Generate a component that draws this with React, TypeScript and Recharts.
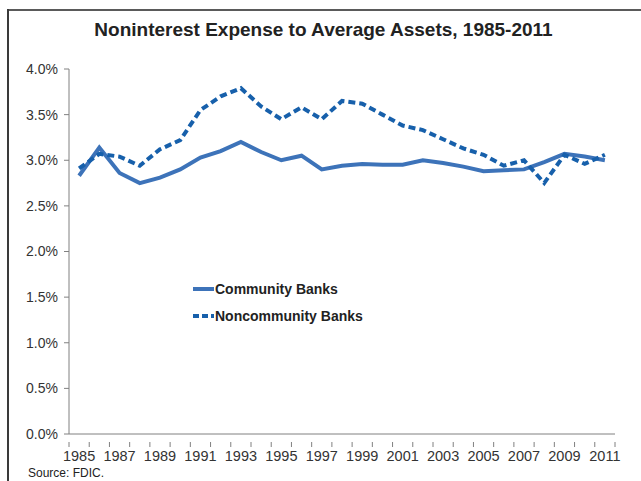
import React from "react"
import { LineChart, Line, XAxis, YAxis } from "recharts"

const years = [
  1985, 1986, 1987, 1988, 1989, 1990, 1991, 1992, 1993, 1994, 1995, 1996, 1997, 1998,
  1999, 2000, 2001, 2002, 2003, 2004, 2005, 2006, 2007, 2008, 2009, 2010, 2011,
]
const communityBanks = [
  2.83, 3.14, 2.86, 2.75, 2.81, 2.9, 3.03, 3.1, 3.2, 3.09, 3.0, 3.05, 2.9, 2.94,
  2.96, 2.95, 2.95, 3.0, 2.97, 2.93, 2.88, 2.89, 2.9, 2.98, 3.07, 3.04, 3.0,
]
const noncommunityBanks = [
  2.91, 3.07, 3.04, 2.94, 3.12, 3.22, 3.55, 3.7, 3.79, 3.59, 3.45, 3.58, 3.45, 3.65,
  3.62, 3.5, 3.38, 3.33, 3.23, 3.13, 3.06, 2.94, 3.0, 2.75, 3.06, 2.96, 3.06,
]
const yTicks = [0, 0.5, 1, 1.5, 2, 2.5, 3, 3.5, 4]

const data = years.map((y, i) => ({
  year: y,
  community: communityBanks[i],
  noncommunity: noncommunityBanks[i],
}))

const W = 641
const H = 481
const PLOT_LEFT = 69
const PLOT_RIGHT = 26
const PLOT_W = W - PLOT_LEFT - PLOT_RIGHT
const FONT = '"Liberation Sans", Arial, sans-serif'
const AXIS = "#808080"
const SOLID = "#3d73b9"
const DASHED = "#1760ab"

function YearTick(props: any) {
  const { x, y, payload, index } = props
  const bw = PLOT_W / years.length
  const left = x - bw / 2
  return (
    <g>
      <line x1={left} x2={left} y1={y} y2={y + 5} stroke={AXIS} strokeWidth={1} />
      {index === years.length - 1 && (
        <line x1={x + bw / 2} x2={x + bw / 2} y1={y} y2={y + 5} stroke={AXIS} strokeWidth={1} />
      )}
      {index % 2 === 0 && (
        <text x={x} y={y + 19} textAnchor="middle" fontSize={14.5} fill="#333" fontFamily={FONT}>
          {payload.value}
        </text>
      )}
    </g>
  )
}

function LegendBox() {
  const row = (label: string, color: string, dash?: string) => (
    <div style={{ display: "flex", alignItems: "center", height: 27 }}>
      <svg width={21} height={8}>
        <line x1={0} x2={21} y1={4} y2={4} stroke={color} strokeWidth={4} strokeDasharray={dash} />
      </svg>
      <span style={{ fontWeight: "bold", fontSize: 14, color: "#222", marginLeft: 1 }}>{label}</span>
    </div>
  )
  return (
    <div style={{ position: "absolute", left: 193, top: 275, fontFamily: FONT }}>
      {row("Community Banks", SOLID)}
      {row("Noncommunity Banks", DASHED, "6 3")}
    </div>
  )
}

export default function App() {
  return (
    <div style={{ position: "relative", width: W, height: H, background: "#fff", overflow: "hidden", fontFamily: FONT }}>
      <style>{`body{margin:0}`}</style>
      <div style={{ position: "absolute", left: 8, top: 9, right: 0, height: 2, background: "#5a5a5a" }} />
      <div style={{ position: "absolute", left: 7, top: 9, width: 2, bottom: 0, background: "#3a3a3a" }} />
      <div
        style={{
          position: "absolute",
          top: 19,
          left: 0,
          width: W + 6,
          textAlign: "center",
          fontWeight: "bold",
          fontSize: 19,
          color: "#222",
        }}
      >
        Noninterest Expense to Average Assets, 1985-2011
      </div>
      <LineChart width={W} height={H} data={data} margin={{ top: 69, right: PLOT_RIGHT, bottom: 0, left: 0 }}>
        <XAxis
          dataKey="year"
          scale="band"
          interval={0}
          height={47}
          tickLine={false}
          axisLine={{ stroke: AXIS }}
          tick={<YearTick />}
        />
        <YAxis
          width={PLOT_LEFT}
          domain={[0, 4]}
          ticks={yTicks}
          tickFormatter={(v: number) => v.toFixed(1) + "%"}
          tickSize={5}
          tickMargin={6}
          axisLine={{ stroke: AXIS }}
          tickLine={{ stroke: AXIS }}
          tick={{ fontSize: 14, fill: "#333", fontFamily: FONT }}
          interval={0}
        />
        <Line
          type="linear"
          dataKey="community"
          stroke={SOLID}
          strokeWidth={4}
          dot={false}
          isAnimationActive={false}
        />
        <Line
          type="linear"
          dataKey="noncommunity"
          stroke={DASHED}
          strokeWidth={4}
          strokeDasharray="7 4"
          dot={false}
          isAnimationActive={false}
        />
      </LineChart>
      <LegendBox />
      <div style={{ position: "absolute", left: 28, top: 466, fontSize: 12, color: "#222" }}>Source: FDIC.</div>
    </div>
  )
}
